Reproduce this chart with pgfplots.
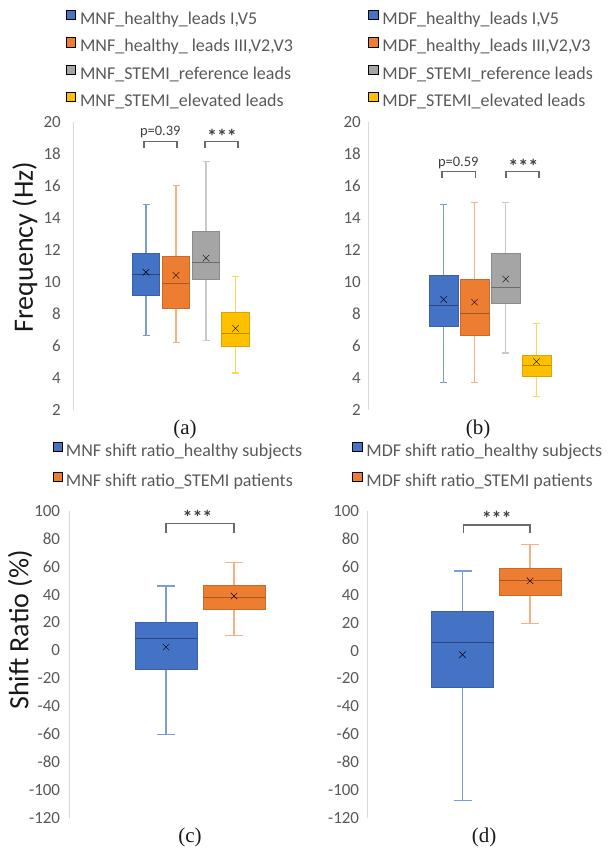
\documentclass[border=0pt]{standalone}
\usepackage{pgfplots}
\pgfplotsset{compat=1.18}
\usepgfplotslibrary{statistics}
\usepackage{fontspec}
\setmainfont{Carlito}
\newfontfamily\capfont{Liberation Serif}

\definecolor{cblue}{HTML}{4472C4}
\definecolor{corange}{HTML}{ED7D31}
\definecolor{cgray}{HTML}{A5A5A5}
\definecolor{cyellow}{HTML}{FFC000}
\definecolor{ticktext}{HTML}{595959}
\definecolor{axisgray}{HTML}{D9D9D9}
\definecolor{brk}{HTML}{6A6A6A}
\definecolor{anno}{HTML}{404040}

\pgfplotsset{
  panel/.style={
    scale only axis, clip=false, disabledatascaling,
    boxplot/draw direction=y,
    axis x line=none, axis y line=left,
    y axis line style={-, draw=axisgray, line width=1pt},
    xtick=\empty,
    ytick style={draw=none},
    major tick length=0pt,
    yticklabel style={font=\fontsize{17}{17}\selectfont, text=ticktext, inner sep=0pt, anchor=east},
    /pgf/number format/assume math mode=true,
    legend cell align=left,
    legend style={draw=none, fill=none, inner sep=0pt, outer sep=0pt,
      anchor=north west,
      nodes={inner sep=0pt, outer sep=0pt, font=\fontsize{18}{18}\selectfont,
             text=ticktext, text height=12pt, text depth=4pt}},
  },
  bx/.style n args={4}{
    forget plot,
    boxplot/every box/.style={draw=#2, fill=#1, line width=0.7pt},
    boxplot/every median/.style={draw=#3, line width=1pt},
    boxplot/every whisker/.style={draw=#4, line width=1.1pt},
    boxplot/every average/.style={/tikz/mark=x, /tikz/mark size=4.5pt, draw=#3, line width=0.7pt},
  },
  sq/.style={legend image code/.code={\fill[##1] (0pt,1pt) rectangle (9.5pt,10.5pt);}},
  bluebox/.style={bx={cblue}{cblue!85!black}{cblue!62!black}{cblue!70!white}},
  orangebox/.style={bx={corange}{corange!85!black}{corange!70!black}{corange!60!white}},
  graybox/.style={bx={cgray}{cgray!85!black}{cgray!65!black}{cgray!60!white}},
  yellowbox/.style={bx={cyellow}{cyellow!85!black}{cyellow!70!black}{cyellow!65!white}},
  bracket/.style={forget plot, draw=brk, line width=1.1pt},
}
\newcommand\stars{\fontsize{20}{20}\selectfont\bfseries ***}

\begin{document}
\begin{tikzpicture}
\useasboundingbox (0,0) rectangle (611pt,850pt);

% ---------------- (a) ----------------
\begin{axis}[panel,
  at={(73pt,440pt)}, anchor=south west,
  width=235pt, height=288pt,
  xmin=73, xmax=308, ymin=2, ymax=20,
  ytick={2,4,...,20},
  yticklabel style={xshift=-12pt},
  boxplot/box extend=27.5, boxplot/whisker extend=7,
  legend style={at={(-0.0311,1.3896)}, row sep=8.7pt, column sep=4.5pt},
]
\addlegendimage{sq, fill=cblue}
\addlegendentry{MNF\_healthy\_leads I,V5}
\addlegendimage{sq, fill=corange}
\addlegendentry{MNF\_healthy\_ leads III,V2,V3}
\addlegendimage{sq, fill=cgray}
\addlegendentry{MNF\_STEMI\_reference leads}
\addlegendimage{sq, fill=cyellow}
\addlegendentry{MNF\_STEMI\_elevated leads}

\addplot[bluebox, boxplot prepared={draw position=146, lower whisker=6.66, lower quartile=9.18, median=10.47, upper quartile=11.76, upper whisker=14.86, average=10.61}] coordinates {};
\addplot[orangebox, boxplot prepared={draw position=176, lower whisker=6.20, lower quartile=8.33, median=9.91, upper quartile=11.63, upper whisker=16.02, average=10.41}] coordinates {};
\addplot[graybox, boxplot prepared={draw position=206, lower whisker=6.35, lower quartile=10.18, median=11.2, upper quartile=13.15, upper whisker=17.52, average=11.49}] coordinates {};
\addplot[yellowbox, boxplot prepared={draw position=235.5, lower whisker=4.31, lower quartile=6.0, median=6.79, upper quartile=8.08, upper whisker=10.36, average=7.10}] coordinates {};

\addplot[bracket] coordinates {(144,18.36) (144,18.77) (177,18.77) (177,18.36)};
\addplot[bracket] coordinates {(205,18.36) (205,18.77) (238,18.77) (238,18.36)};
\node[font=\fontsize{14.5}{14.5}\selectfont, text=anno, inner sep=0pt] at (axis cs:160.3,19.35) {p=0.39};
\node[text=anno, inner sep=0pt] at (axis cs:222,19.1) {\stars};
\end{axis}

% ---------------- (b) ----------------
\begin{axis}[panel,
  at={(368pt,440pt)}, anchor=south west,
  width=243pt, height=288pt,
  xmin=368, xmax=611, ymin=2, ymax=20,
  ytick={2,4,...,20},
  yticklabel style={xshift=-7pt},
  boxplot/box extend=29, boxplot/whisker extend=7,
  legend style={at={(0,1.3896)}, row sep=8.7pt, column sep=4.5pt},
]
\addlegendimage{sq, fill=cblue}
\addlegendentry{MDF\_healthy\_leads I,V5}
\addlegendimage{sq, fill=corange}
\addlegendentry{MDF\_healthy\_leads III,V2,V3}
\addlegendimage{sq, fill=cgray}
\addlegendentry{MDF\_STEMI\_reference leads}
\addlegendimage{sq, fill=cyellow}
\addlegendentry{MDF\_STEMI\_elevated leads}

\addplot[bluebox, boxplot prepared={draw position=443.7, lower whisker=3.73, lower quartile=7.24, median=8.55, upper quartile=10.39, upper whisker=14.86, average=8.91}] coordinates {};
\addplot[orangebox, boxplot prepared={draw position=474.5, lower whisker=3.71, lower quartile=6.68, median=8.03, upper quartile=10.18, upper whisker=14.94, average=8.74}] coordinates {};
\addplot[graybox, boxplot prepared={draw position=505.7, lower whisker=5.56, lower quartile=8.68, median=9.66, upper quartile=11.78, upper whisker=14.98, average=10.18}] coordinates {};
\addplot[yellowbox, boxplot prepared={draw position=536.5, lower whisker=2.87, lower quartile=4.10, median=4.77, upper quartile=5.43, upper whisker=7.39, average=5.02}] coordinates {};

\addplot[bracket] coordinates {(442,16.48) (442,16.9) (475.5,16.9) (475.5,16.48)};
\addplot[bracket] coordinates {(506,16.48) (506,16.9) (539,16.9) (539,16.48)};
\node[font=\fontsize{14.5}{14.5}\selectfont, text=anno, inner sep=0pt] at (axis cs:458.3,17.42) {p=0.59};
\node[text=anno, inner sep=0pt] at (axis cs:523.3,17.25) {\stars};
\end{axis}

% ---------------- (c) ----------------
\begin{axis}[panel,
  at={(69.3pt,32.3pt)}, anchor=south west,
  width=240pt, height=306.7pt,
  xmin=69.3, xmax=309.3, ymin=-120, ymax=100,
  ytick={-120,-100,...,100},
  yticklabel style={xshift=-9pt},
  boxplot/box extend=62, boxplot/whisker extend=18,
  legend style={at={(-0.07,1.2255)}, row sep=11pt, column sep=3.5pt},
]
\addlegendimage{sq, fill=cblue}
\addlegendentry{MNF shift ratio\_healthy subjects}
\addlegendimage{sq, fill=corange}
\addlegendentry{MNF shift ratio\_STEMI patients}

\addplot[bluebox, boxplot prepared={draw position=166, lower whisker=-60.5, lower quartile=-13.3, median=8.2, upper quartile=19.9, upper whisker=46.2, average=2.4}] coordinates {};
\addplot[orangebox, boxplot prepared={draw position=234, lower whisker=10.6, lower quartile=29.5, median=37.8, upper quartile=46.7, upper whisker=63.2, average=39}] coordinates {};

\addplot[bracket] coordinates {(166,84) (166,90.9) (234,90.9) (234,84)};
\node[text=anno, inner sep=0pt] at (axis cs:197.5,95.8) {\stars};
\end{axis}

% ---------------- (d) ----------------
\begin{axis}[panel,
  at={(367.3pt,32pt)}, anchor=south west,
  width=243.7pt, height=307pt,
  xmin=367.3, xmax=611, ymin=-120, ymax=100,
  ytick={-120,-100,...,100},
  yticklabel style={xshift=-8pt},
  boxplot/box extend=62, boxplot/whisker extend=18,
  legend style={at={(-0.0628,1.2253)}, row sep=11pt, column sep=4.5pt},
]
\addlegendimage{sq, fill=cblue}
\addlegendentry{MDF shift ratio\_healthy subjects}
\addlegendimage{sq, fill=corange}
\addlegendentry{MDF shift ratio\_STEMI patients}

\addplot[bluebox, boxplot prepared={draw position=462.5, lower whisker=-107.5, lower quartile=-26.5, median=5.8, upper quartile=27.8, upper whisker=57, average=-3}] coordinates {};
\addplot[orangebox, boxplot prepared={draw position=530, lower whisker=19.4, lower quartile=39.7, median=50, upper quartile=58.9, upper whisker=76.1, average=50}] coordinates {};

\addplot[bracket] coordinates {(463.3,84) (463.3,90) (530,90) (530,84)};
\node[text=anno, inner sep=0pt] at (axis cs:496.7,94.6) {\stars};
\end{axis}

% ---------------- axis titles and captions ----------------
\node[rotate=90, font=\fontsize{28}{28}\selectfont, text=black!90] at (25pt,603pt) {Frequency (Hz)};
\node[rotate=90, font=\fontsize{28}{28}\selectfont, text=black!90] at (20pt,220pt) {Shift Ratio (\%)};
\node[font=\capfont\fontsize{21}{21}\selectfont, text=black!90] at (185pt,421pt) {(a)};
\node[font=\capfont\fontsize{21}{21}\selectfont, text=black!90] at (478pt,421pt) {(b)};
\node[font=\capfont\fontsize{21}{21}\selectfont, text=black!90] at (190pt,13pt) {(c)};
\node[font=\capfont\fontsize{21}{21}\selectfont, text=black!90] at (484pt,13pt) {(d)};
\end{tikzpicture}
\end{document}
